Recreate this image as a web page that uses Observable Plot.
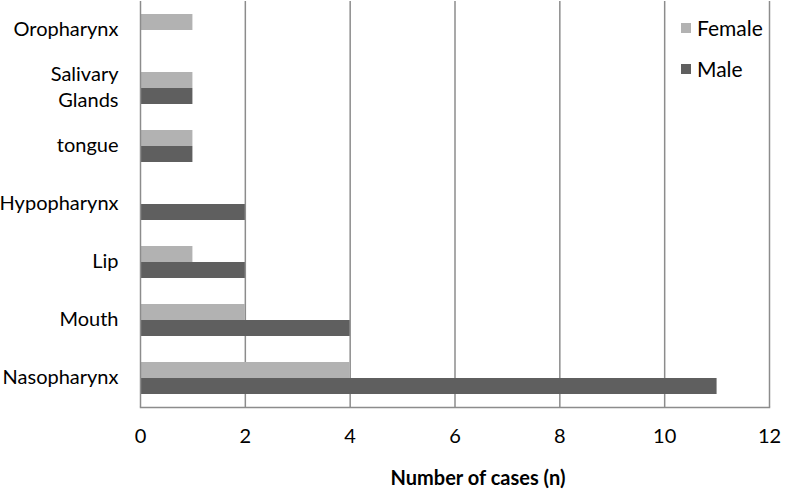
<!DOCTYPE html>
<html>
<head>
<meta charset="utf-8">
<script src="https://cdn.jsdelivr.net/npm/d3@7"></script>
<script src="https://cdn.jsdelivr.net/npm/@observablehq/plot@0.6"></script>
<style>
  body { margin: 0; background: #fff; }
  #wrap { position: relative; width: 787px; height: 489px; font-family: Lato, "Open Sans", sans-serif; }
  #wrap svg { font-family: Lato, "Open Sans", sans-serif; }
  .legend { position: absolute; left: 681px; font-size: 21px; color: #000; display: flex; align-items: center; line-height: 1; }
  .legend span.sw { display: inline-block; width: 10px; height: 10px; margin-right: 6px; }
  .xlabel { position: absolute; top: 465px; left: 378px; width: 200px; text-align: center; font-size: 20px; font-weight: bold; color: #000; line-height: 1.2; }
</style>
</head>
<body>
<div id="wrap"></div>
<script>
const categories = ["Oropharynx", "Salivary Glands", "tongue", "Hypopharynx", "Lip", "Mouth", "Nasopharynx"];
const categoryLabels = ["Oropharynx", "Salivary\nGlands", "tongue", "Hypopharynx", "Lip", "Mouth", "Nasopharynx"];
const series = ["Female", "Male"];
const female = [1, 1, 1, 0, 1, 2, 4];
const male = [0, 1, 1, 2, 2, 4, 11];
const xTicks = [0, 2, 4, 6, 8, 10, 12];
const xTitle = "Number of cases (n)";
const colors = ["#b2b2b2", "#5f5f5f"];

const table = [];
categories.forEach((c, i) => {
  table.push({category: c, sex: "Female", n: female[i]});
  table.push({category: c, sex: "Male", n: male[i]});
});
const labels = categories.map((c, i) => ({category: c, label: categoryLabels[i]}));

const chart = Plot.plot({
  width: 787,
  height: 489,
  marginLeft: 140,
  marginRight: 18,
  marginTop: 0,
  marginBottom: 81,
  style: {fontSize: "20px", color: "#000", background: "#fff"},
  x: {domain: [0, 12], ticks: xTicks, tickSize: 0, tickPadding: 21, label: null},
  fy: {domain: categories, padding: 0, axis: null, label: null},
  y: {domain: series, axis: null, paddingInner: 0, paddingOuter: 0.715},
  color: {domain: series, range: colors},
  marks: [
    Plot.ruleX(xTicks.filter(d => d > 0), {stroke: "#8c8c8c", strokeWidth: 1.5, strokeOpacity: 1}),
    Plot.barX(table, {fy: "category", y: "sex", x: "n", fill: "sex"}),
    Plot.ruleX([0], {stroke: "#8c8c8c", strokeWidth: 1.5}),
    Plot.text(labels, {fy: "category", text: "label", frameAnchor: "left", textAnchor: "end", dx: -22, dy: -3, lineHeight: 1.3, fill: "#000", fontSize: 20}),
    Plot.frame({anchor: "bottom", facet: "super", stroke: "#8c8c8c", strokeWidth: 1.5})
  ]
});
const wrap = document.getElementById("wrap");
wrap.appendChild(chart);

series.forEach((s, i) => {
  const d = document.createElement("div");
  d.className = "legend";
  d.style.top = (i === 0 ? 17 : 58) + "px";
  d.innerHTML = `<span class="sw" style="background:${colors[i]}"></span>${s}`;
  wrap.appendChild(d);
});
const xl = document.createElement("div");
xl.className = "xlabel";
xl.textContent = xTitle;
wrap.appendChild(xl);
</script>
</body>
</html>
